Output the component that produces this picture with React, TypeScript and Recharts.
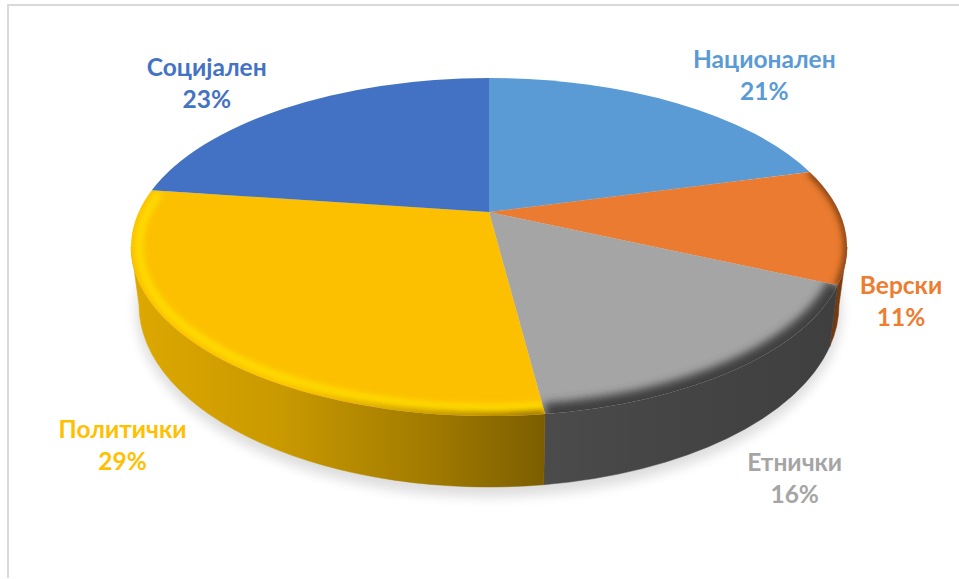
import React from "react";
import { PieChart, Pie, Cell } from "recharts";

const categories = ["Национален", "Верски", "Етнички", "Политички", "Социјален"];
const shares = [21, 11, 16, 29, 23];

const COLORS = ["#5B9BD5", "#ED7D31", "#A5A5A5", "#FFC000", "#4472C4"];
const TOP_COLORS = ["#5B9BD5", "#EA7B30", "#A5A5A5", "#FCC000", "#4371C3"];
const LABEL_OFFSETS = [[93, -34], [57, 69], [56, 103], [-74, 94], [-84, -30]];
const WALL_STOPS: [string, string][][] = [
  [["0%", "#2d4d6b"], ["100%", "#2d4d6b"]],
  [["0%", "#7d3f12"], ["100%", "#6f3710"]],
  [["0%", "#4b4b4b"], ["40%", "#454545"], ["100%", "#3f3f3f"]],
  [["0%", "#dcA700"], ["35%", "#c99900"], ["70%", "#a37c00"], ["100%", "#7c5e00"]],
  [["0%", "#223a63"], ["100%", "#223a63"]],
];

const SQUASH = 0.472; // ry / rx of the tilted top face
const TILT = 0.22; // perspective warp of the slice boundaries
const APEX_LIFT = 0.207; // how far the apex sits above the ellipse centre
const DROP = 58; // vertical distance between top and bottom ellipses
const BASE_RX = 350 / 358;
const BASE_RY = 182 / 169;

const project = (deg: number) => {
  const t = (deg * Math.PI) / 180;
  const x = Math.sin(t);
  const y = Math.cos(t);
  const d = 1 + TILT * y;
  return [(x * Math.sqrt(1 - TILT * TILT)) / d, (y + TILT) / d];
};

const paramOf = (deg: number) => {
  const [x, y] = project(deg);
  let p = (Math.atan2(x, y) * 180) / Math.PI;
  if (p < 0) p += 360;
  return p;
};

const onEllipse = (cx: number, cy: number, rx: number, ry: number, p: number) => {
  const t = (p * Math.PI) / 180;
  return [cx + rx * Math.sin(t), cy - ry * Math.cos(t)];
};

const arcTo = (cx: number, cy: number, rx: number, ry: number, a: number, b: number) => {
  const [x, y] = onEllipse(cx, cy, rx, ry, b);
  const large = Math.abs(b - a) > 180 ? 1 : 0;
  const sweep = b > a ? 1 : 0;
  return `A${rx} ${ry} 0 ${large} ${sweep} ${x} ${y}`;
};

const Slice = (props: any) => {
  const { cx, cy, outerRadius: rx, startAngle, endAngle, index = 0 } = props;
  const i = categories.indexOf(props.name ?? props.payload?.name);
  const idx = i >= 0 ? i : index;
  const ry = rx * SQUASH;
  const a = paramOf(90 - startAngle);
  let b = paramOf(90 - endAngle);
  if (b <= a) b += 360;
  const apexY = cy - APEX_LIFT * ry;
  const [sx, sy] = onEllipse(cx, cy, rx, ry, a);
  const top = `M${cx} ${apexY}L${sx} ${sy}${arcTo(cx, cy, rx, ry, a, b)}Z`;

  const wa = Math.max(a, 90);
  const wb = Math.min(b, 270);
  const brx = rx * BASE_RX;
  const bry = ry * BASE_RY;
  const bcy = cy + DROP;
  let wall = "";
  let wx0 = 0;
  let wx1 = 1;
  if (wb > wa) {
    const [p0x, p0y] = onEllipse(cx, cy, rx, ry, wa);
    const [p1x, p1y] = onEllipse(cx, bcy, brx, bry, wb);
    wall = `M${p0x} ${p0y}${arcTo(cx, cy, rx, ry, wa, wb)}L${p1x} ${p1y}${arcTo(cx, bcy, brx, bry, wb, wa)}Z`;
    wx0 = Math.min(p0x, p1x, onEllipse(cx, bcy, brx, bry, wa)[0]);
    wx1 = Math.max(p0x, p1x, onEllipse(cx, bcy, brx, bry, wa)[0]);
  }
  const rimPath = (inset: number) => {
    const r1 = rx - inset;
    const r2 = ry - inset;
    const [x0, y0] = onEllipse(cx, cy, r1, r2, a);
    return `M${x0} ${y0}${arcTo(cx, cy, r1, r2, a, b)}`;
  };
  const stops = WALL_STOPS[idx];
  const gradX0 = idx === 3 ? wx0 : wx1;
  const gradX1 = idx === 3 ? wx1 : wx0;
  return (
    <g>
      <defs>
        <filter id="sh" x="-10%" y="-10%" width="120%" height="120%">
          <feGaussianBlur stdDeviation="6" />
        </filter>
        <filter id={`bl1-${idx}`} filterUnits="userSpaceOnUse" x="0" y="0" width="959" height="579">
          <feGaussianBlur stdDeviation="3" />
        </filter>
        <filter id={`bl2-${idx}`} filterUnits="userSpaceOnUse" x="0" y="0" width="959" height="579">
          <feGaussianBlur stdDeviation="4" />
        </filter>
        <clipPath id={`cl-${idx}`}>
          <path d={top} />
        </clipPath>
        <linearGradient id={`wg-${idx}`} gradientUnits="userSpaceOnUse" x1={idx === 2 ? wx0 : gradX0} x2={idx === 2 ? wx1 : gradX1} y1="0" y2="0">
          {stops.map(([o, c]) => (
            <stop key={o} offset={o} stopColor={c} />
          ))}
        </linearGradient>
        <linearGradient id="yd" gradientUnits="userSpaceOnUse" x1={cx - 200} x2={cx + 55} y1="0" y2="0">
          <stop offset="0%" stopColor="#8a6a00" stopOpacity="0" />
          <stop offset="100%" stopColor="#7c5e00" stopOpacity="1" />
        </linearGradient>
      </defs>
      {startAngle === 90 && (
        <ellipse cx={cx} cy={bcy + 5} rx={brx + 3} ry={bry + 5} fill="#000" opacity={0.13} filter="url(#sh)" />
      )}
      {wall && <path d={wall} fill={`url(#wg-${idx})`} stroke={`url(#wg-${idx})`} strokeWidth={0.5} />}
      <path d={top} fill={TOP_COLORS[idx]} />
      <g clipPath={`url(#cl-${idx})`}>
        {idx === 3 && (
          <>
            <path d={rimPath(8)} fill="none" stroke="#FFE000" strokeWidth={7} filter={`url(#bl1-${idx})`} />
            <path d={rimPath(0)} fill="none" stroke="url(#yd)" strokeWidth={6} filter={`url(#bl1-${idx})`} />
          </>
        )}
        {idx === 2 && (
          <path d={rimPath(0)} fill="none" stroke="#3f3f3f" strokeWidth={22} filter={`url(#bl2-${idx})`} />
        )}
        {idx === 1 && (
          <path d={rimPath(0)} fill="none" stroke="#6f3710" strokeWidth={6} filter={`url(#bl1-${idx})`} />
        )}
      </g>
    </g>
  );
};

const SliceLabel = (props: any) => {
  const { cx, cy, outerRadius: rx, midAngle, index } = props;
  const ry = rx * SQUASH;
  const [x, y] = onEllipse(cx, cy, rx, ry, paramOf(90 - midAngle));
  const [dx, dy] = LABEL_OFFSETS[index];
  return (
    <text
      x={x + dx}
      y={y + dy}
      textAnchor="middle"
      fill={COLORS[index]}
      style={{ fontFamily: "Lato, 'Open Sans', sans-serif", fontWeight: 700, fontSize: 24.5 }}
    >
      <tspan x={x + dx}>{categories[index]}</tspan>
      <tspan x={x + dx} dy={32}>{`${shares[index]}%`}</tspan>
    </text>
  );
};

const rows = categories.map((name, i) => ({ name, value: shares[i] }));

export default function App() {
  return (
    <div style={{ position: "absolute", left: 0, top: 0, width: 959, height: 579, background: "#fff", overflow: "hidden" }}>
      <div style={{ position: "absolute", left: 7, top: 4, width: 952, height: 574, borderLeft: "2px solid #d9d9d9", borderTop: "2px solid #d9d9d9", boxSizing: "border-box" }} />
      <div style={{ position: "absolute", left: 0, top: 0 }}>
        <PieChart width={959} height={579} margin={{ top: 0, right: 0, bottom: 0, left: 0 }}>
          <Pie
            data={rows}
            dataKey="value"
            nameKey="name"
            cx={489}
            cy={247}
            innerRadius={0}
            outerRadius={358}
            startAngle={90}
            endAngle={-270}
            stroke="none"
            shape={Slice}
            label={SliceLabel}
            labelLine={false}
            isAnimationActive={false}
          >
            {rows.map((r, i) => (
              <Cell key={r.name} fill={COLORS[i]} />
            ))}
          </Pie>
        </PieChart>
      </div>
    </div>
  );
}
